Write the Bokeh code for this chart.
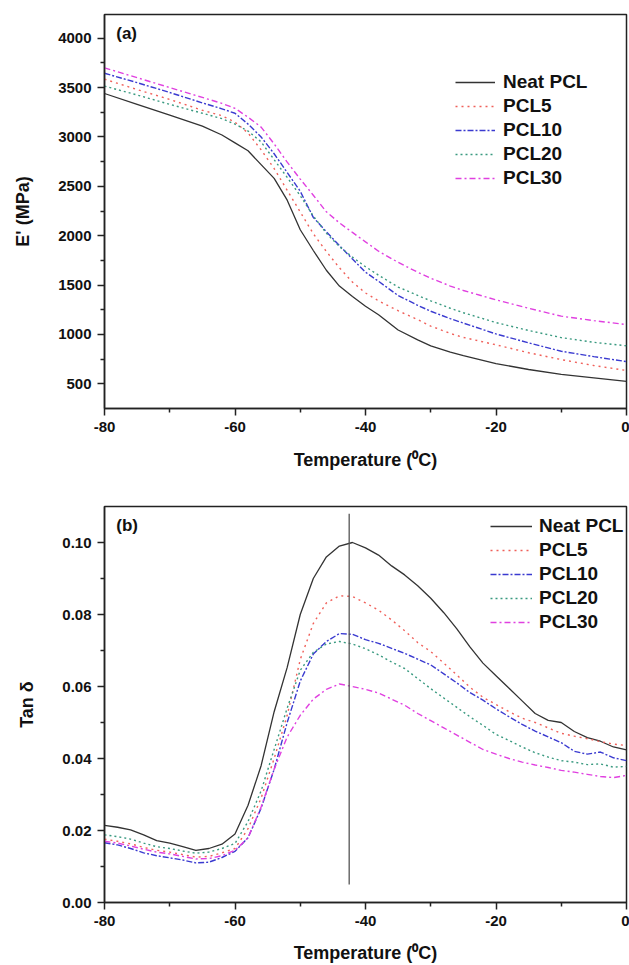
from bokeh.plotting import figure
from bokeh.models import (FixedTicker, Legend, LegendItem, Label, Range1d,
                          NumeralTickFormatter)
from bokeh.layouts import column
from bokeh.embed import file_html
from bokeh.resources import INLINE

FONT = "Liberation Sans"

# ---------------- data: panel (a) storage modulus ----------------
temp_a = [-80, -75, -70, -65, -62, -60, -58, -56, -54, -52, -50, -48, -46, -44,
          -42, -40, -38, -35, -32, -30, -27, -25, -20, -15, -10, -5, 0]
e_neat = [3440, 3330, 3220, 3110, 3020, 2940, 2860, 2720, 2580, 2360, 2060, 1850,
          1650, 1490, 1385, 1285, 1200, 1045, 945, 885, 820, 785, 705, 645, 595, 560, 525]
e_pcl5 = [3585, 3480, 3380, 3270, 3215, 3150, 3040, 2870, 2680, 2460, 2240, 2020,
          1840, 1675, 1530, 1420, 1340, 1240, 1150, 1085, 1010, 970, 895, 815, 745, 685, 635]
e_pcl10 = [3645, 3550, 3450, 3345, 3285, 3240, 3130, 3000, 2830, 2640, 2450, 2185,
           2040, 1900, 1764, 1630, 1538, 1394, 1295, 1235, 1160, 1115, 1005, 915, 830, 775, 725]
e_pcl20 = [3515, 3425, 3330, 3240, 3185, 3130, 3060, 2950, 2770, 2590, 2405, 2200,
           2025, 1890, 1783, 1686, 1600, 1480, 1395, 1340, 1265, 1220, 1120, 1040, 968, 920, 885]
e_pcl30 = [3700, 3600, 3500, 3400, 3340, 3290, 3200, 3100, 2930, 2745, 2573, 2410,
           2242, 2130, 2033, 1937, 1843, 1730, 1630, 1570, 1490, 1445, 1350, 1265, 1185, 1140, 1100]

# ---------------- data: panel (b) tan delta ----------------
temp_b = [-80, -78, -76, -74, -72, -70, -68, -66, -64, -62, -60, -58, -56, -54,
          -52, -50, -48, -46, -44, -42, -40, -38, -36, -34, -32, -30, -28, -26,
          -24, -22, -20, -18, -16, -14, -12, -10, -8, -6, -4, -2, 0]
tan_neat = [0.0214, 0.0209, 0.0202, 0.0188, 0.0172, 0.0165, 0.0155, 0.0145, 0.0150,
            0.0162, 0.0190, 0.0270, 0.0380, 0.0530, 0.0653, 0.0800, 0.0900, 0.0960,
            0.0990, 0.1000, 0.0985, 0.0965, 0.0935, 0.0910, 0.0880, 0.0845, 0.0805,
            0.0760, 0.0710, 0.0665, 0.0630, 0.0595, 0.0560, 0.0525, 0.0506, 0.0500,
            0.0475, 0.0458, 0.0448, 0.0432, 0.0424]
tan_pcl5 = [0.0176, 0.0170, 0.0163, 0.0153, 0.0145, 0.0140, 0.0133, 0.0126, 0.0128,
            0.0138, 0.0150, 0.0205, 0.0290, 0.0400, 0.0520, 0.0675, 0.0775, 0.0832,
            0.0852, 0.0850, 0.0832, 0.0812, 0.0785, 0.0755, 0.0722, 0.0697, 0.0665,
            0.0632, 0.0598, 0.0570, 0.0550, 0.0530, 0.0512, 0.0500, 0.0485, 0.0470,
            0.0462, 0.0455, 0.0447, 0.0440, 0.0436]
tan_pcl10 = [0.0166, 0.0160, 0.0150, 0.0138, 0.0130, 0.0124, 0.0118, 0.0110, 0.0112,
             0.0125, 0.0142, 0.0180, 0.0262, 0.0370, 0.0500, 0.0615, 0.0690, 0.0725,
             0.0747, 0.0745, 0.0730, 0.0720, 0.0706, 0.0692, 0.0676, 0.0660, 0.0635,
             0.0610, 0.0583, 0.0562, 0.0538, 0.0516, 0.0495, 0.0476, 0.0460, 0.0444,
             0.0420, 0.0412, 0.0418, 0.0402, 0.0394]
tan_pcl20 = [0.0188, 0.0183, 0.0176, 0.0165, 0.0155, 0.0150, 0.0143, 0.0137, 0.0140,
             0.0150, 0.0164, 0.0225, 0.0310, 0.0425, 0.0540, 0.0645, 0.0695, 0.0718,
             0.0725, 0.0718, 0.0705, 0.0688, 0.0668, 0.0650, 0.0622, 0.0594, 0.0568,
             0.0542, 0.0516, 0.0492, 0.0467, 0.0450, 0.0432, 0.0416, 0.0404, 0.0394,
             0.0390, 0.0383, 0.0385, 0.0376, 0.0378]
tan_pcl30 = [0.0170, 0.0165, 0.0157, 0.0148, 0.0140, 0.0135, 0.0128, 0.0121, 0.0122,
             0.0130, 0.0145, 0.0180, 0.0265, 0.0370, 0.0460, 0.0520, 0.0565, 0.0592,
             0.0607, 0.0600, 0.0592, 0.0582, 0.0565, 0.0548, 0.0525, 0.0505, 0.0485,
             0.0465, 0.0445, 0.0425, 0.0412, 0.0400, 0.0390, 0.0382, 0.0375, 0.0367,
             0.0362, 0.0356, 0.0350, 0.0347, 0.0353]

peak_temp = -42.5          # vertical marker in panel (b)
peak_line_span = (0.005, 0.108)

series_names = ["Neat PCL", "PCL5", "PCL10", "PCL20", "PCL30"]
colors = ["#333333", "#f0605a", "#3a3ad0", "#3a9a80", "#e040e0"]
dashes = ["solid", "2 4", "6 2 2 2", "2 3", "6 3 2 3"]
widths = [1.3, 1.4, 1.4, 1.4, 1.4]

x_major = [-80, -60, -40, -20, 0]
x_minor = [-70, -50, -30, -10]
ya_major = [500, 1000, 1500, 2000, 2500, 3000, 3500, 4000]
ya_minor = [750, 1250, 1750, 2250, 2750, 3250, 3750, 4250]
yb_major = [0.0, 0.02, 0.04, 0.06, 0.08, 0.10]
yb_minor = [0.01, 0.03, 0.05, 0.07, 0.09]

x_title = "Temperature (\u2070C)"


def make_fig(height, border_left, border_top, border_bottom, y_range, y_label,
             y_major, y_minor, y_fmt, label_standoff_x):
    p = figure(width=629, height=height, output_backend="svg", toolbar_location=None,
               x_range=Range1d(-80, 0), y_range=y_range,
               min_border_left=border_left, min_border_right=3,
               min_border_top=border_top, min_border_bottom=border_bottom)
    p.xgrid.visible = False
    p.ygrid.visible = False
    p.outline_line_color = "#222222"
    p.outline_line_width = 1.5
    p.background_fill_color = "white"
    p.border_fill_color = "white"
    p.xaxis.ticker = FixedTicker(ticks=x_major, minor_ticks=x_minor)
    p.yaxis.ticker = FixedTicker(ticks=y_major, minor_ticks=y_minor)
    p.xaxis.formatter = NumeralTickFormatter(format="0")
    p.yaxis.formatter = NumeralTickFormatter(format=y_fmt)
    for ax in (p.xaxis[0], p.yaxis[0]):
        ax.axis_line_color = "#222222"
        ax.axis_line_width = 1.5
        ax.major_tick_line_color = "#222222"
        ax.major_tick_line_width = 1.5
        ax.minor_tick_line_color = "#222222"
        ax.minor_tick_line_width = 1.5
        ax.major_tick_out = 7
        ax.major_tick_in = 0
        ax.minor_tick_out = 4
        ax.minor_tick_in = 0
        ax.major_label_text_font = FONT
        ax.major_label_text_font_style = "bold"
        ax.major_label_text_font_size = "15px"
        ax.major_label_text_color = "#111111"
        ax.major_label_standoff = 6
        ax.axis_label_text_font = FONT
        ax.axis_label_text_font_style = "bold"
        ax.axis_label_text_font_size = "18px"
        ax.axis_label_text_color = "#111111"
    p.xaxis.axis_label = x_title
    p.xaxis.axis_label_standoff = label_standoff_x
    p.yaxis.axis_label = y_label
    p.yaxis.axis_label_standoff = 22
    return p


def add_legend(p, renderers, loc, glyph_w, standoff):
    items = [LegendItem(label=n, renderers=[r]) for n, r in zip(series_names, renderers)]
    leg = Legend(items=items, location=loc, orientation="vertical",
                 padding=0, margin=0, spacing=2,
                 label_height=20, glyph_height=20, glyph_width=glyph_w,
                 label_standoff=standoff,
                 label_text_font=FONT, label_text_font_style="bold",
                 label_text_font_size="19px", label_text_color="#111111",
                 border_line_alpha=0, background_fill_alpha=0)
    p.add_layout(leg)


# ---------------- panel (a) ----------------
pa = make_fig(478, 104, 14, 70, Range1d(250, 4240), "E' (MPa)",
              ya_major, ya_minor, "0", 15)
ra = []
for ys, c, d, w in zip([e_neat, e_pcl5, e_pcl10, e_pcl20, e_pcl30], colors, dashes, widths):
    ra.append(pa.line(temp_a, ys, line_color=c, line_dash=d, line_width=w))
add_legend(pa, ra, (351, 219), 40, 8)
pa.add_layout(Label(x=-78.2, y=4050, text="(a)", text_font=FONT, text_font_style="bold",
                    text_font_size="17px", text_baseline="middle", text_color="#111111"))

# ---------------- panel (b) ----------------
pb = make_fig(487, 102, 28, 63, Range1d(0, 0.11), "Tan \u03b4",
              yb_major, yb_minor, "0.00", 14)
rb = []
for ys, c, d, w in zip([tan_neat, tan_pcl5, tan_pcl10, tan_pcl20, tan_pcl30], colors, dashes, widths):
    rb.append(pb.line(temp_b, ys, line_color=c, line_dash=d, line_width=w))
pb.segment(x0=[peak_temp], y0=[peak_line_span[0]], x1=[peak_temp], y1=[peak_line_span[1]],
           line_color="#555555", line_width=1.3)
add_legend(pb, rb, (386, 269), 42, 7)
pb.add_layout(Label(x=-78.2, y=0.1047, text="(b)", text_font=FONT, text_font_style="bold",
                    text_font_size="17px", text_baseline="middle", text_color="#111111"))

layout = column(pa, pb, spacing=0)
open("out.html", "w").write(file_html(layout, INLINE))
